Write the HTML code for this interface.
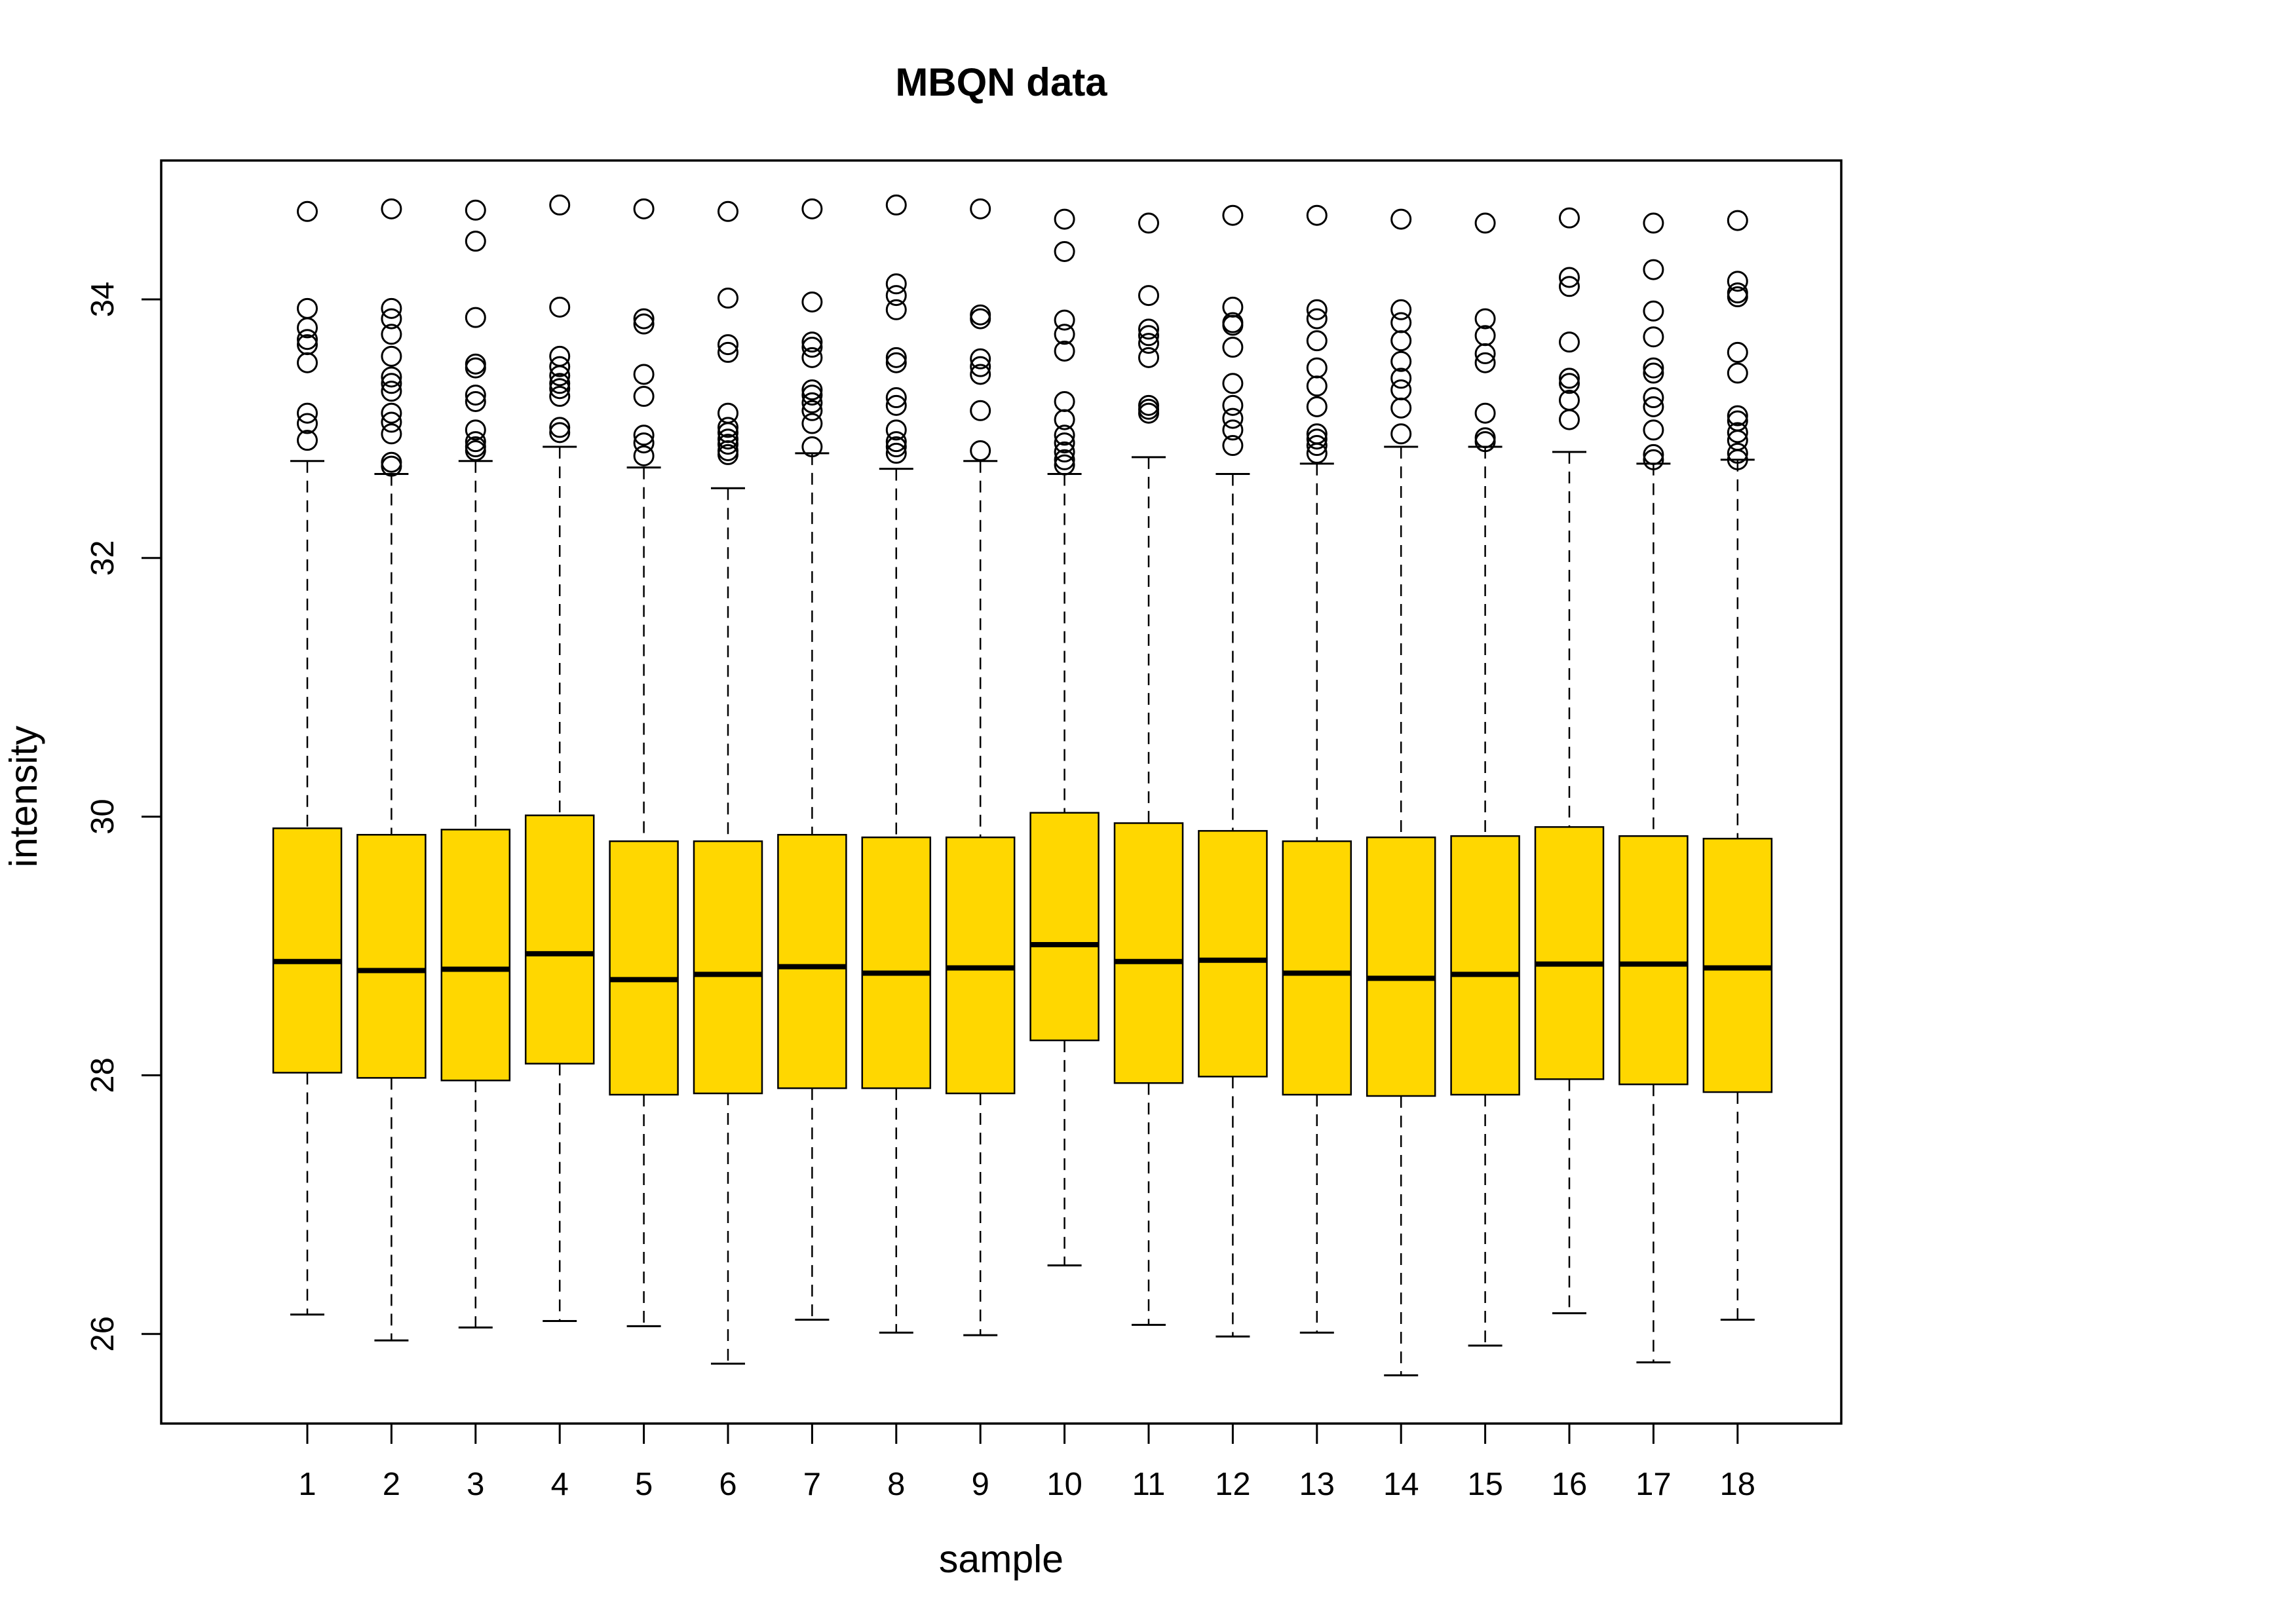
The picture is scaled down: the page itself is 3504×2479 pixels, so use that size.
<!DOCTYPE html>
<html><head><meta charset="utf-8"><style>
body{margin:0;background:#fff}
svg{display:block}
text{font-family:"Liberation Sans",sans-serif;fill:#000}
</style></head><body>
<svg id="chart" width="3504" height="2479" viewBox="0 0 3504 2479" xmlns="http://www.w3.org/2000/svg">
<rect width="3504" height="2479" fill="#fff"/>
<text x="1528" y="146" font-size="60" font-weight="bold" text-anchor="middle">MBQN data</text>
<text x="1528" y="2400" font-size="59" text-anchor="middle">sample</text>
<text transform="translate(56,1216) rotate(-90)" font-size="59" text-anchor="middle">intensity</text>
<g id="marks"></g>
<rect x="246" y="245" width="2564" height="1928" fill="none" stroke="#000" stroke-width="3.5"/>
<g id="axes"></g>
</svg>
<script>
const samples = ["1","2","3","4","5","6","7","8","9","10","11","12","13","14","15","16","17","18"];
const upperWhisker = [32.75,32.65,32.75,32.86,32.70,32.54,32.81,32.69,32.75,32.65,32.78,32.65,32.73,32.86,32.86,32.82,32.73,32.76];
const q3 = [29.91,29.86,29.90,30.01,29.81,29.81,29.86,29.84,29.84,30.03,29.95,29.89,29.81,29.84,29.85,29.92,29.85,29.83];
const medians = [28.88,28.81,28.82,28.94,28.74,28.78,28.84,28.79,28.83,29.01,28.88,28.89,28.79,28.75,28.78,28.86,28.86,28.83];
const q1 = [28.02,27.98,27.96,28.09,27.85,27.86,27.90,27.90,27.86,28.27,27.94,27.99,27.85,27.84,27.85,27.97,27.93,27.87];
const lowerWhisker = [26.15,25.95,26.05,26.10,26.06,25.77,26.11,26.01,25.99,26.53,26.07,25.98,26.01,25.68,25.91,26.16,25.78,26.11];
const outliers = [
 [34.68,33.93,33.78,33.69,33.65,33.51,33.12,33.04,32.91],
 [34.70,33.93,33.85,33.73,33.56,33.40,33.35,33.29,33.12,33.05,32.96,32.74,32.71],
 [34.69,34.45,33.86,33.50,33.47,33.26,33.21,32.99,32.90,32.86,32.83],
 [34.73,33.94,33.56,33.48,33.41,33.35,33.31,33.25,33.01,32.97],
 [34.70,33.85,33.81,33.42,33.25,32.95,32.89,32.79],
 [34.68,34.01,33.65,33.59,33.12,33.01,32.97,32.92,32.88,32.83,32.80],
 [34.70,33.98,33.67,33.63,33.55,33.30,33.26,33.20,33.14,33.04,32.86],
 [34.73,34.12,34.03,33.92,33.55,33.51,33.24,33.18,32.99,32.90,32.86,32.81],
 [34.70,33.88,33.85,33.54,33.48,33.42,33.14,32.83],
 [34.62,34.37,33.84,33.73,33.60,33.21,33.07,32.95,32.89,32.82,32.76,32.72],
 [34.59,34.03,33.77,33.72,33.66,33.55,33.18,33.15,33.12],
 [34.65,33.94,33.82,33.80,33.63,33.35,33.18,33.08,32.99,32.87],
 [34.65,33.92,33.85,33.68,33.47,33.33,33.17,32.96,32.92,32.87,32.81],
 [34.62,33.92,33.82,33.68,33.52,33.39,33.30,33.16,32.96],
 [34.59,33.85,33.72,33.58,33.51,33.12,32.93,32.90],
 [34.63,34.17,34.10,33.67,33.39,33.35,33.22,33.07],
 [34.59,34.23,33.91,33.71,33.47,33.43,33.24,33.17,32.99,32.80,32.76],
 [34.61,34.14,34.05,34.02,33.59,33.43,33.10,33.06,32.97,32.91,32.81,32.76]
];
const yTicks = [26,28,30,32,34];

const NS = "http://www.w3.org/2000/svg";
function xScale(i){ return 469 + i*128.4; }
function yScale(v){ return 457 + (34 - v)*197.4; }
function mk(tag, attrs, parent){
  const e = document.createElementNS(NS, tag);
  for (const k in attrs) e.setAttribute(k, attrs[k]);
  parent.appendChild(e);
  return e;
}
const marks = document.getElementById('marks');
const axes = document.getElementById('axes');
samples.forEach((s, i) => {
  const cx = xScale(i);
  const g = mk('g', {}, marks);
  
  
  const wu = mk('line', {x1:cx, x2:cx, y1:yScale(upperWhisker[i]), y2:yScale(q3[i]), stroke:'#000', 'stroke-width':2.5, 'stroke-dasharray':'18 12'}, g);
  
  
  const wl = mk('line', {x1:cx, x2:cx, y1:yScale(q1[i]), y2:yScale(lowerWhisker[i]), stroke:'#000', 'stroke-width':2.5, 'stroke-dasharray':'18 12'}, g);
  
  
  const cu = mk('line', {x1:cx-26, x2:cx+26, y1:yScale(upperWhisker[i]), y2:yScale(upperWhisker[i]), stroke:'#000', 'stroke-width':3}, g);
  
  
  const cl = mk('line', {x1:cx-26, x2:cx+26, y1:yScale(lowerWhisker[i]), y2:yScale(lowerWhisker[i]), stroke:'#000', 'stroke-width':3}, g);
  
  
  const r = mk('rect', {x:cx-52, y:yScale(q3[i]), width:104, height:yScale(q1[i])-yScale(q3[i]), fill:'#FFD700', stroke:'#000', 'stroke-width':2.5}, g);
  
  
  const m = mk('line', {x1:cx-52, x2:cx+52, y1:yScale(medians[i]), y2:yScale(medians[i]), stroke:'#000', 'stroke-width':8}, g);
  
  
  outliers[i].forEach(v => {
    const c = mk('circle', {cx:cx, cy:yScale(v), r:14.5, fill:'none', stroke:'#000', 'stroke-width':3}, g);
    
    
  });
  const t = mk('line', {x1:cx, x2:cx, y1:2173, y2:2204, stroke:'#000', 'stroke-width':3}, axes);
  
  
  const tl = mk('text', {x:cx, y:2282, 'font-size':49, 'text-anchor':'middle'}, axes);
  tl.textContent = s;
  
  
});
yTicks.forEach(v => {
  const y = yScale(v);
  const t = mk('line', {x1:216, x2:246, y1:y, y2:y, stroke:'#000', 'stroke-width':3}, axes);
  
  
  const tl = mk('text', {transform:'translate(173,' + y + ') rotate(-90)', 'font-size':49, 'text-anchor':'middle'}, axes);
  tl.textContent = String(v);
  
  
});
</script>
</body></html>
